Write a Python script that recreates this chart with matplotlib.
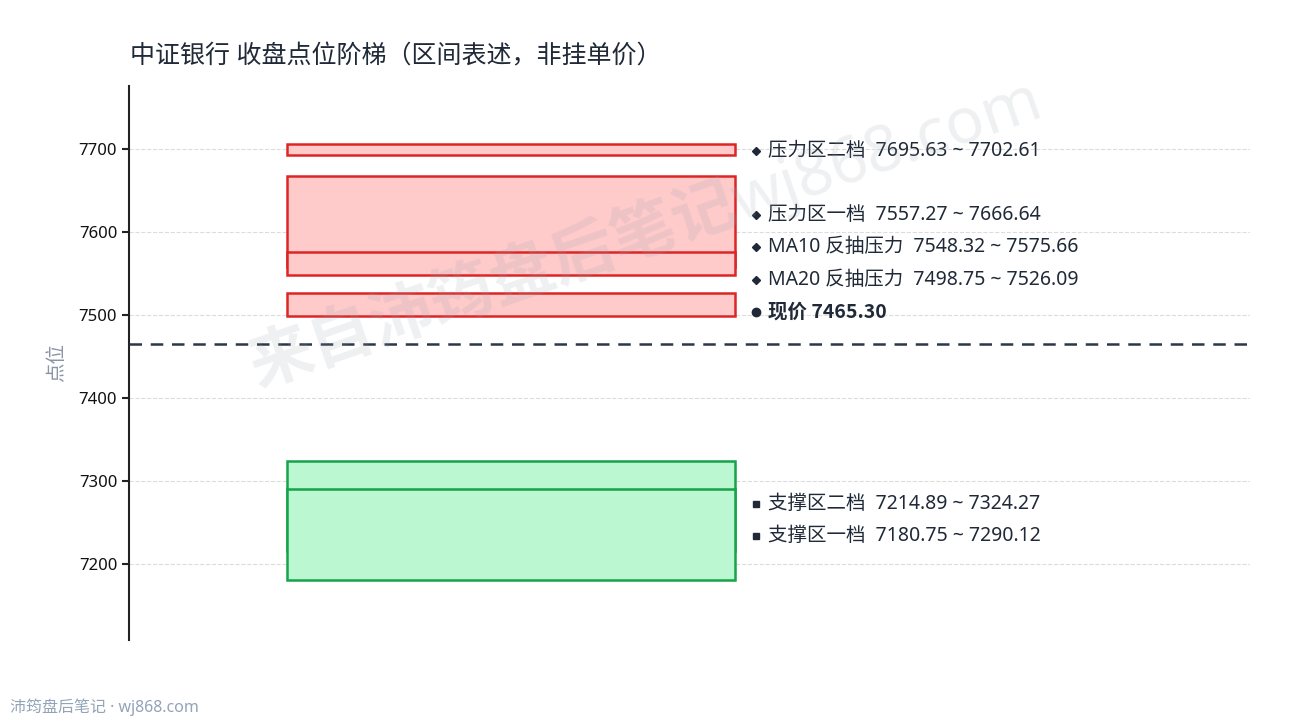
import matplotlib
matplotlib.use("Agg")
import matplotlib.pyplot as plt

plt.rcParams['font.family'] = ['Noto Sans', 'Noto Sans CJK SC', 'DejaVu Sans']

title = "中证银行 收盘点位阶梯（区间表述，非挂单价）"
res_names = ["压力区二档", "压力区一档", "MA10 反抽压力", "MA20 反抽压力"]
res_low = [7695.63, 7557.27, 7548.32, 7498.75]
res_high = [7702.61, 7666.64, 7575.66, 7526.09]
sup_names = ["支撑区二档", "支撑区一档"]
sup_low = [7214.89, 7180.75]
sup_high = [7324.27, 7290.12]
price = 7465.30
yticks = [7200, 7300, 7400, 7500, 7600, 7700]

fig = plt.figure(figsize=(12.9, 7.2), dpi=100)
ax = fig.add_axes([0.1, 0.111, 0.869, 0.77])
ax.set_xlim(0, 1)
ax.set_ylim(7108, 7776)

x0, x1 = 0.141, 0.541
red_fc, red_ec = "#fecaca", "#dc2626"
grn_fc, grn_ec = "#bbf7d0", "#16a34a"
min_h = 14

def draw_box(lo, hi, fc, ec):
    h = max(hi - lo, min_h)
    mid = (lo + hi) / 2
    ax.bar((x0 + x1) / 2, h, width=x1 - x0, bottom=mid - h / 2, color=fc,
           edgecolor=ec, linewidth=1.8, zorder=3)

for lo, hi in zip(res_low, res_high):
    draw_box(lo, hi, red_fc, red_ec)
for lo, hi in zip(sup_low, sup_high):
    draw_box(lo, hi, grn_fc, grn_ec)

ax.axhline(price, color="#2d3748", linewidth=1.8, dashes=(5, 3.5), zorder=4)

gap = 39
txt_color = "#1f2937"
mx, tx = 0.5595, 0.570
dy = -2

items = [(price + 40, f"现价 {price:.2f}", "o", True)]
res = sorted(zip(res_names, res_low, res_high), key=lambda t: (t[1] + t[2]) / 2)
for n, lo, hi in res:
    items.append(((lo + hi) / 2, f"{n}  {lo:.2f} ~ {hi:.2f}", "D", False))
prev = None
for c, s, m, bold in items:
    y = c if prev is None else max(c, prev + gap)
    prev = y
    ax.plot([mx], [y + dy], marker=m, color=txt_color, markersize=6 if m == "o" else 4,
            linestyle="none", clip_on=False, zorder=5)
    if bold:
        ax.text(tx, y + dy, s, va="center", ha="left", fontsize=14,
                fontweight="bold", color=txt_color, zorder=5,
                family=['Noto Sans CJK SC', 'DejaVu Sans'])
    else:
        ax.text(tx, y + dy, s, va="center", ha="left", fontsize=14,
                color=txt_color, zorder=5)

sup = sorted(zip(sup_names, sup_low, sup_high), key=lambda t: (t[1] + t[2]) / 2)
prev = None
for n, lo, hi in sup:
    c = (lo + hi) / 2
    y = c if prev is None else max(c, prev + gap)
    prev = y
    ax.plot([mx], [y + dy], marker="s", color=txt_color, markersize=5,
            linestyle="none", clip_on=False, zorder=5)
    ax.text(tx, y + dy, f"{n}  {lo:.2f} ~ {hi:.2f}", va="center", ha="left",
            fontsize=14, color=txt_color, zorder=5)

ax.set_yticks(yticks)
ax.set_yticklabels([str(v) for v in yticks], fontsize=12, color="#111111")
ax.set_xticks([])
ax.tick_params(axis="y", length=5, width=1.5, color="#222222")
ax.grid(axis="y", color="#dcdcdc", linestyle="--", linewidth=0.8, zorder=0)
for s in ["top", "right", "bottom"]:
    ax.spines[s].set_visible(False)
ax.spines["left"].set_linewidth(1.5)
ax.spines["left"].set_color("#222222")
ax.set_ylabel("点位", fontsize=14, color="#8a94a6", labelpad=8)

fig.text(130 / 1290, 1 - 57 / 720, title, fontsize=18, color="#1f2937",
         ha="left", va="center")
fig.text(10 / 1290, 1 - 707 / 720, "沛筠盘后笔记 · wj868.com", fontsize=11.5,
         color="#94a3b8", ha="left", va="center")
fig.text(645 / 1290, 1 - 232 / 720, "来自沛筠盘后笔记wj868.com", fontsize=46,
         fontweight="bold", color="#9ca3af", alpha=0.16, rotation=19,
         ha="center", va="center", zorder=10)

fig.savefig("out.png", dpi=100, facecolor="white")
